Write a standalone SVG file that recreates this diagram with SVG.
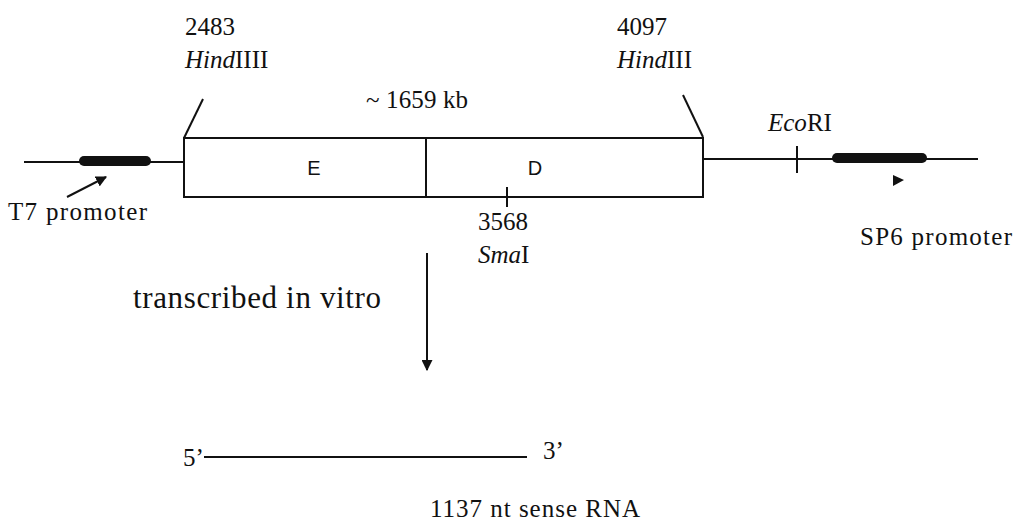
<svg xmlns="http://www.w3.org/2000/svg" width="1015" height="521" viewBox="0 0 1015 521">
<style>
.t{font-family:"Liberation Serif","Times New Roman",serif;font-size:25px;fill:#111}
.s{font-family:"Liberation Sans",Arial,sans-serif;font-size:20px;fill:#111}
.ln{stroke:#111;stroke-width:2;fill:none}
.th{stroke:#111;stroke-width:10;stroke-linecap:round;fill:none}
</style>
<defs>
<marker id="ah" viewBox="0 0 10 10" refX="9" refY="5" markerWidth="11" markerHeight="11" markerUnits="userSpaceOnUse" orient="auto"><path d="M0,0 L10,5 L0,10 z" fill="#111"/></marker>
</defs>
<rect width="1015" height="521" fill="#fff"/>
<g id="connectors">
<line class="ln" x1="24" y1="162" x2="184" y2="162"/>
<line class="ln" x1="703" y1="159" x2="978" y2="159"/>
<line class="ln" x1="203" y1="99" x2="184" y2="138"/>
<line class="ln" x1="683" y1="95" x2="703" y2="137"/>
<line class="ln" x1="67" y1="197" x2="106" y2="177" marker-end="url(#ah)"/>
<line class="ln" x1="427" y1="253" x2="427" y2="370" marker-end="url(#ah)"/>
<path d="M893,175 L904,180 L893,186 z" fill="#111"/>
</g>
<g id="t7-promoter">
<line class="th" x1="84" y1="161" x2="146" y2="161"/>
<text class="t" x="8" y="220" textLength="139">T7 promoter</text>
</g>
<g id="sp6-promoter">
<line class="th" x1="837" y1="158" x2="922" y2="158"/>
<text class="t" x="860" y="245" textLength="152">SP6 promoter</text>
</g>
<g id="insert">
<rect class="ln" x="184" y="138" width="519" height="59"/>
<line class="ln" x1="426" y1="138" x2="426" y2="197"/>
<text class="s" x="314" y="175" text-anchor="middle">E</text>
<text class="s" x="535" y="175" text-anchor="middle">D</text>
<text class="t" x="366" y="108" textLength="102">~ 1659 kb</text>
</g>
<g id="hind-left">
<text class="t" x="185" y="35">2483</text>
<text class="t" x="185" y="68"><tspan font-style="italic">Hind</tspan>IIII</text>
</g>
<g id="hind-right">
<text class="t" x="617" y="35">4097</text>
<text class="t" x="617" y="68"><tspan font-style="italic">Hind</tspan>III</text>
</g>
<g id="ecori">
<line class="ln" x1="797" y1="146" x2="797" y2="173"/>
<text class="t" x="768" y="131"><tspan font-style="italic">Eco</tspan>RI</text>
</g>
<g id="smai">
<line class="ln" x1="507" y1="187" x2="507" y2="207"/>
<text class="t" x="478" y="230">3568</text>
<text class="t" x="478" y="263"><tspan font-style="italic">Sma</tspan>I</text>
</g>
<g id="transcription">
<text class="t" x="133" y="308" style="font-size:31px" textLength="248">transcribed in vitro</text>
</g>
<g id="rna">
<text class="t" x="183" y="466">5’</text>
<line class="ln" x1="204" y1="457" x2="527" y2="457"/>
<text class="t" x="543" y="459">3’</text>
<text class="t" x="430" y="517" textLength="210">1137 nt sense RNA</text>
</g>
</svg>
